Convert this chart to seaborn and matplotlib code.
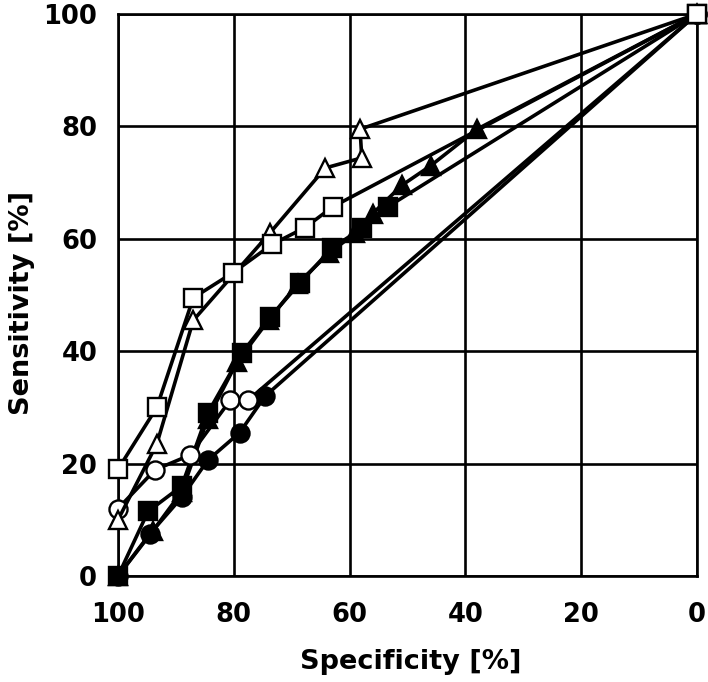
import matplotlib
matplotlib.use("Agg")
import matplotlib.pyplot as plt
import seaborn as sns

# Specificity (x, %) / sensitivity (y, %) pairs
spec_fsq = [100, 94.8, 89, 84.5, 78.6, 73.7, 68.6, 63, 57.8, 53.4, 0]
sens_fsq = [0, 11.5, 16, 29, 39.7, 46.1, 52.1, 58.4, 61.9, 65.7, 100]

spec_ftri = [100, 94, 89, 84.5, 79.5, 74, 69, 63.5, 59, 56, 51, 46, 38, 0]
sens_ftri = [0, 8, 15, 28, 38, 45.5, 52, 57.5, 61, 64.5, 69.5, 73, 79.5, 100]

spec_fcirc = [100, 94.5, 89, 84.5, 79, 74.6, 0]
sens_fcirc = [0, 7.5, 14, 20.6, 25.5, 32, 100]

spec_ocirc = [100, 93.6, 87.6, 80.6, 77.5, 0]
sens_ocirc = [12, 18.9, 21.5, 31.3, 31.3, 100]

spec_otri = [100, 93.3, 87, 73.8, 64.2, 57.9, 58.2, 0]
sens_otri = [10, 23.5, 45.5, 61, 72.6, 74.4, 79.5, 100]

spec_osq = [100, 93.3, 87, 80.1, 73.4, 67.7, 62.9, 0]
sens_osq = [19, 30, 49.5, 54, 59, 62, 65.7, 100]

ticks = [0, 20, 40, 60, 80, 100]

series = [
    (spec_fsq, sens_fsq, "s", "black"),
    (spec_ftri, sens_ftri, "^", "black"),
    (spec_fcirc, sens_fcirc, "o", "black"),
    (spec_ocirc, sens_ocirc, "o", "white"),
    (spec_otri, sens_otri, "^", "white"),
    (spec_osq, sens_osq, "s", "white"),
]

sns.set_style("white")
plt.rcParams["font.family"] = ["DejaVu Sans"]
plt.rcParams["font.weight"] = "bold"
plt.rcParams["text.color"] = "black"
plt.rcParams["xtick.color"] = "black"
plt.rcParams["ytick.color"] = "black"

fig = plt.figure(figsize=(7.08, 6.82), dpi=100)
ax = fig.add_axes([0.1667, 0.1554, 0.8178, 0.8241])

for i, (xs, ys, mk, fc) in enumerate(series):
    sns.lineplot(x=xs, y=ys, sort=False, estimator=None, ax=ax,
                 color="black", linewidth=2.6, marker=mk, markersize=13,
                 markerfacecolor=fc, markeredgecolor="black",
                 markeredgewidth=1.7, zorder=3 + i)

ax.set_xlim(100, 0)
ax.set_ylim(0, 100)
ax.set_xticks(ticks)
ax.set_yticks(ticks)
ax.grid(True, color="black", linewidth=1.9)
for sp in ax.spines.values():
    sp.set_visible(True)
    sp.set_color("black")
    sp.set_linewidth(1.9)
    sp.set_zorder(1)
ax.set_axisbelow(True)
ax.tick_params(direction="out", length=8, width=1.9, color="black",
               labelcolor="black", labelsize=18.5)
ax.tick_params(axis="x", pad=11)
ax.tick_params(axis="y", pad=7)
for lbl in ax.get_xticklabels() + ax.get_yticklabels():
    lbl.set_fontweight("bold")

fig.text(411 / 708, 1 - 662 / 682, "Specificity [%]", ha="center", va="center",
         fontsize=19.5, fontweight="bold", color="black")
fig.text(22 / 708, 1 - 303 / 682, "Sensitivity [%]", ha="center", va="center",
         rotation=90, fontsize=19.5, fontweight="bold", color="black")

for c in ax.collections + ax.lines:
    c.set_clip_on(False)

fig.savefig("out.png", dpi=100)
